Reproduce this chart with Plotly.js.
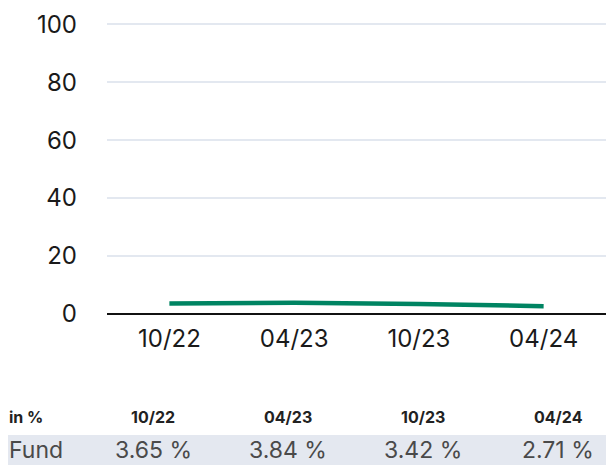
<!DOCTYPE html>
<html>
<head>
<meta charset="utf-8">
<script src="https://cdn.plot.ly/plotly-3.0.1.min.js"></script>
<style>
html,body{margin:0;padding:0;background:#fff;}
#chart{width:606px;height:465px;}
</style>
</head>
<body>
<div id="chart"></div>
<script>
const categories = ["10/22", "04/23", "10/23", "04/24"];
const fundValues = [3.65, 3.84, 3.42, 2.71];
const fundLabels = ["3.65 %", "3.84 %", "3.42 %", "2.71 %"];
const seriesName = "Fund";
const unitLabel = "in %";
const yTicks = [0, 20, 40, 60, 80, 100];

const W = 606, H = 465;
const margin = {l: 107, r: 0, t: 23, b: 151};
const plotW = W - margin.l - margin.r;
const plotH = H - margin.t - margin.b;
const px2x = px => (px - margin.l) / plotW;
const py2y = py => (H - margin.b - py) / plotH;

const colCenters = [153, 288, 423, 558];
const headerY = 417;
const rowY = 450;

const annotations = [];
annotations.push({xref:'paper', yref:'paper', x: px2x(8), y: py2y(headerY), xanchor:'left', yanchor:'middle',
  text: '<b>' + unitLabel + '</b>', showarrow:false, borderpad:0, font:{family:'Inter, sans-serif', size:16, color:'#222'}});
categories.forEach((c, i) => {
  annotations.push({xref:'paper', yref:'paper', x: px2x(colCenters[i]), y: py2y(headerY), xanchor:'center', yanchor:'middle',
    text: '<b>' + c + '</b>', showarrow:false, borderpad:0, font:{family:'Inter, sans-serif', size:16, color:'#222'}});
  annotations.push({xref:'paper', yref:'paper', x: px2x(colCenters[i]), y: py2y(rowY), xanchor:'center', yanchor:'middle',
    text: fundLabels[i], showarrow:false, borderpad:0, font:{family:'Inter, sans-serif', size:23, color:'#4a4a4a'}});
});
annotations.push({xref:'paper', yref:'paper', x: px2x(8), y: py2y(rowY), xanchor:'left', yanchor:'middle',
  text: seriesName, showarrow:false, borderpad:0, font:{family:'Inter, sans-serif', size:23, color:'#4a4a4a'}});

const shapes = [{type:'rect', xref:'paper', yref:'paper', layer:'below',
  x0: px2x(8), x1: px2x(606), y0: py2y(465), y1: py2y(435), fillcolor:'#e4e8f0', line:{width:0}}];

Plotly.newPlot('chart', [{
  type:'scatter', mode:'lines', x: categories, y: fundValues, name: seriesName,
  line:{color:'#008462', width:4.5}, hoverinfo:'skip'
}], {
  width: W, height: H, margin: margin, showlegend:false,
  paper_bgcolor:'#fff', plot_bgcolor:'#fff',
  font:{family:'Inter, sans-serif', color:'#1a1a1a'},
  xaxis:{type:'category', range:[-0.5, 3.5], showgrid:false, zeroline:false, showline:false,
    ticks:'', tickfont:{size:24, color:'#1a1a1a'}, ticklabelstandoff: 8, fixedrange:true},
  yaxis:{range:[0, 100.4], tickvals: yTicks, showgrid:true, gridcolor:'#e3e8f0', gridwidth:1.5,
    zeroline:true, zerolinecolor:'#111', zerolinewidth:2.5, showline:false, ticks:'',
    tickfont:{size:24, color:'#1a1a1a'}, ticklabelstandoff: 29, fixedrange:true},
  annotations: annotations, shapes: shapes
}, {displayModeBar:false, staticPlot:true});
</script>
</body>
</html>
